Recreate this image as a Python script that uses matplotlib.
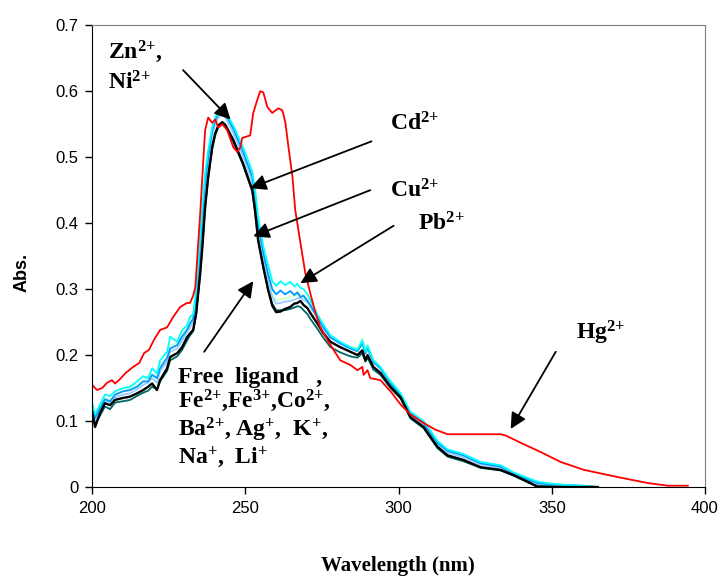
import numpy as np
import matplotlib
matplotlib.use('Agg')
import matplotlib.pyplot as plt

plt.rcParams['mathtext.fontset'] = 'custom'
plt.rcParams['mathtext.rm'] = 'Liberation Serif:bold'
plt.rcParams['mathtext.it'] = 'Liberation Serif:bold'
plt.rcParams['mathtext.bf'] = 'Liberation Serif:bold'

# shared wavelength grid for the ligand-like spectra
wl = [200, 201, 202.6, 204.2, 205.9, 207.5, 210.1, 212.4, 214.7, 216.7,
      218.3, 219.6, 221.2, 222.2, 224.5, 225.5, 227.8, 229.4, 231, 232,
      233, 234, 235.3, 236, 236.9, 237.9, 239.2, 240.2, 241.2, 242.5,
      243.5, 244.4, 246.1, 249.3, 252.3, 253.3, 254.2, 255.9, 257.5, 258.8,
      260.1, 261.5, 263, 264.7, 266, 267, 268, 269, 270.3, 271.2,
      273.5, 275.5, 277.8, 281, 284.3, 286.6, 288.2, 289.2, 289.9, 291.8,
      294.1, 297.4, 298.4, 300.7, 303.9, 308.2, 312.7, 316, 321.2, 326.8,
      333.3, 337.6, 343.1, 345.4, 350, 355, 360, 365]

free_ligand = [.115, .091, .112, .127, .124, .132, .135, .137, .142, .147,
               .152, .157, .147, .162, .180, .197, .203, .212, .227, .233,
               .238, .264, .324, .364, .424, .470, .515, .536, .548, .553,
               .549, .541, .526, .490, .450, .415, .374, .333, .298, .275,
               .265, .266, .270, .273, .278, .279, .282, .276, .271, .264,
               .248, .233, .220, .212, .205, .200, .207, .192, .200, .182,
               .173, .152, .147, .136, .106, .091, .061, .048, .041, .030,
               .026, .018, .006, .000, .000, .000, .000, .000]

cyan_ion = [.128, .110, .125, .140, .138, .145, .150, .152, .160, .168,
            .165, .180, .172, .192, .205, .228, .220, .238, .245, .258,
            .262, .300, .380, .425, .475, .510, .545, .560, .570, .575,
            .570, .562, .548, .515, .478, .448, .408, .365, .335, .312,
            .305, .312, .306, .311, .304, .308, .302, .300, .292, .284,
            .262, .246, .230, .220, .212, .208, .222, .205, .214, .192,
            .182, .160, .155, .142, .114, .100, .070, .057, .050, .038,
            .033, .022, .012, .008, .005, .003, .002, .000]

blue_ion = [.122, .105, .120, .133, .130, .140, .145, .147, .152, .160,
            .160, .170, .165, .180, .196, .210, .215, .228, .238, .248,
            .255, .290, .365, .410, .462, .500, .540, .556, .566, .572,
            .566, .558, .543, .508, .470, .438, .398, .355, .322, .300,
            .292, .298, .292, .297, .291, .295, .288, .290, .282, .276,
            .258, .242, .227, .218, .210, .206, .218, .203, .211, .190,
            .180, .158, .152, .140, .112, .097, .067, .055, .048, .036,
            .031, .021, .010, .006, .004, .003, .002, .000]

mint_ion = [.125, .108, .122, .135, .133, .138, .146, .150, .155, .162,
            .168, .172, .168, .185, .195, .215, .218, .232, .240, .250,
            .258, .295, .370, .415, .468, .505, .540, .555, .562, .566,
            .562, .555, .540, .505, .466, .432, .392, .348, .315, .293,
            .283, .285, .286, .288, .290, .291, .293, .290, .285, .278,
            .260, .244, .228, .219, .212, .210, .226, .210, .216, .194,
            .182, .160, .154, .141, .112, .097, .066, .054, .047, .035,
            .030, .020, .010, .006, .004, .003, .001, .000]

lavender_ion = [.118, .100, .118, .130, .128, .136, .140, .142, .148, .155,
                .158, .165, .158, .175, .190, .205, .210, .222, .235, .242,
                .250, .285, .355, .400, .452, .492, .532, .550, .560, .565,
                .560, .552, .536, .500, .462, .428, .388, .345, .312, .288,
                .278, .279, .281, .282, .284, .286, .287, .284, .280, .273,
                .256, .240, .226, .217, .210, .206, .218, .202, .210, .189,
                .179, .157, .151, .139, .110, .095, .064, .052, .045, .034,
                .029, .020, .009, .005, .003, .002, .001, .000]

teal_ion = [.112, .095, .108, .122, .118, .128, .130, .132, .138, .143,
            .146, .152, .148, .160, .176, .192, .198, .208, .222, .230,
            .236, .262, .325, .365, .425, .468, .512, .533, .545, .552,
            .547, .539, .523, .488, .448, .414, .374, .333, .298, .278,
            .268, .268, .268, .270, .272, .274, .273, .268, .262, .255,
            .240, .226, .212, .204, .198, .196, .203, .190, .196, .178,
            .170, .150, .145, .134, .104, .089, .059, .046, .039, .029,
            .025, .017, .005, .002, .001, .000, .000, .000]

# Hg2+ spectrum
wl_hg = [200, 201.6, 203.3, 204.9, 206.5, 207.5, 208.8, 211, 213.4, 215.4,
         217, 218.6, 220.2, 222.2, 224.5, 226.5, 228.8, 231, 232, 233,
         233.7, 235.3, 236.9, 237.9, 239.2, 240.2, 241.2, 242.5, 244.1, 246.1,
         247.4, 248.4, 249, 251.6, 252.6, 254.2, 254.9, 255.9, 257.2, 258.8,
         260.8, 262.1, 263.1, 264.1, 265.4, 266.3, 268, 269.6, 271.2, 272.9,
         274.5, 276.8, 278.8, 281, 284.3, 286.6, 288.2, 288.6, 289.9, 290.8,
         294.1, 297.4, 300.7, 303.9, 308.2, 312, 316, 333.3, 335, 339.9,
         346.4, 352.9, 360.5, 371.6, 381.4, 387.9, 394.4]
hg = [.155, .147, .150, .158, .162, .157, .162, .173, .182, .188,
      .203, .208, .223, .238, .242, .258, .273, .279, .279, .290,
      .303, .415, .541, .560, .552, .557, .545, .550, .541, .515,
      .508, .515, .529, .533, .567, .591, .600, .598, .576, .567,
      .574, .571, .552, .515, .470, .420, .370, .324, .294, .264,
      .242, .223, .208, .192, .185, .177, .182, .170, .177, .165,
      .162, .145, .125, .110, .097, .087, .080, .080, .078, .067,
      .053, .038, .026, .015, .006, .002, .002]

fig = plt.figure(figsize=(7.28, 5.78), dpi=100)
ax = fig.add_axes([0.1264, 0.1574, 0.842, 0.799])

ax.plot(wl, mint_ion, color='#CCFFCC', lw=1.3)
ax.plot(wl, lavender_ion, color='#99CCFF', lw=1.3)
ax.plot(wl, blue_ion, color='#0099FF', lw=1.3)
ax.plot(wl, cyan_ion, color='#00FFFF', lw=1.3)
ax.plot(wl, teal_ion, color='#006666', lw=1.3)
ax.plot(wl, free_ligand, color='black', lw=1.7)
ax.plot(wl_hg, hg, color='#FF0000', lw=1.3)

ax.set_xlim(200, 400)
ax.set_ylim(0, 0.7)
ax.set_xticks([200, 250, 300, 350, 400])
ax.set_yticks([0, 0.1, 0.2, 0.3, 0.4, 0.5, 0.6, 0.7])
ax.set_yticklabels(['0', '0.1', '0.2', '0.3', '0.4', '0.5', '0.6', '0.7'])
ax.tick_params(direction='out', length=5, width=1, labelsize=12, pad=5)
for lab in ax.get_xticklabels() + ax.get_yticklabels():
    lab.set_family('Liberation Sans')
ax.spines['top'].set_color('#808080')
ax.spines['right'].set_color('#808080')

fig.text(22 / 728, 1 - 272 / 578, 'Abs.', rotation=90, ha='center', va='center',
         fontsize=13, fontweight='bold', family='Liberation Sans')
fig.text(398 / 728, 1 - 566 / 578, 'Wavelength (nm)', ha='center', va='center',
         fontsize=15, fontweight='bold', family='Liberation Serif')

tkw = dict(fontsize=17, fontweight='bold', family='Liberation Serif', va='baseline')
ax.text(205.2, 0.650, r'Zn$^{2{+}}$,', **tkw)
ax.text(205.2, 0.602, r'Ni$^{2{+}}$', **tkw)
ax.text(297.1, 0.541, r'Cd$^{2{+}}$', **tkw)
ax.text(297.1, 0.439, r'Cu$^{2{+}}$', **tkw)
ax.text(306.5, 0.389, r'Pb$^{2{+}}$', **tkw)
ax.text(357.8, 0.223, r'Hg$^{2{+}}$', **tkw)
ax.text(228.1, 0.158, 'Free  ligand   ,', **tkw)
ax.text(228.1, 0.120, r'Fe$^{2{+}}$,Fe$^{3{+}}$,Co$^{2{+}}$,', **tkw)
ax.text(228.1, 0.077, r'Ba$^{2{+}}$, Ag$^{{+}}$,  K$^{{+}}$,', **tkw)
ax.text(228.1, 0.036, r'Na$^{{+}}$,  Li$^{{+}}$', **tkw)

arrows = [((229.7, 0.632), (245.2, 0.557)),
          ((291.2, 0.524), (251.6, 0.453)),
          ((290.8, 0.450), (252.6, 0.380)),
          ((298.4, 0.396), (268.0, 0.309)),
          ((236.6, 0.205), (252.6, 0.312)),
          ((351.3, 0.205), (336.6, 0.088))]
for tail, head in arrows:
    ax.annotate('', xy=head, xytext=tail,
                arrowprops=dict(arrowstyle='-|>', mutation_scale=24, lw=1.3,
                                color='black', shrinkA=0, shrinkB=0))

fig.savefig('out.png', dpi=100)
